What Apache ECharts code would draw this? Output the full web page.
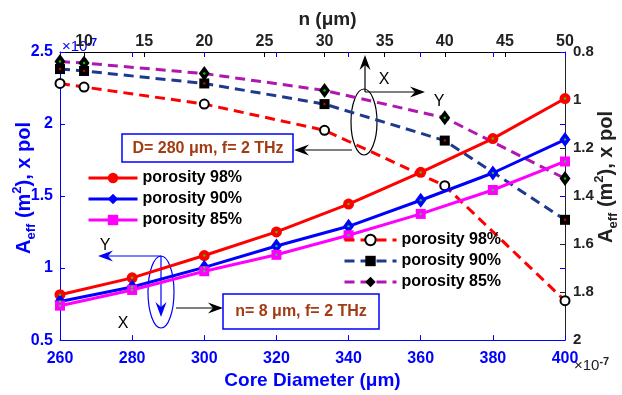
<!DOCTYPE html>
<html>
<head>
<meta charset="utf-8">
<script src="https://cdn.jsdelivr.net/npm/echarts@6/dist/echarts.min.js"></script>
<style>
  html, body { margin: 0; padding: 0; background: #ffffff; }
  #chart { width: 622px; height: 395px; }
</style>
</head>
<body>
<div id="chart"></div>
<script>
// Effective mode area A_eff (x pol), in units of 1e-7 m^2

// Versus core diameter D (µm), n = 8 µm, f = 2 THz  -> bottom / left axes
const coreDiameter = [260, 280, 300, 320, 340, 360, 380, 400];
const aeffCore98 = [0.815, 0.932, 1.087, 1.251, 1.444, 1.665, 1.899, 2.177];
const aeffCore90 = [0.768, 0.869, 1.005, 1.153, 1.290, 1.471, 1.660, 1.892];
const aeffCore85 = [0.739, 0.848, 0.978, 1.092, 1.228, 1.376, 1.542, 1.740];

// Versus n (µm), D = 280 µm, f = 2 THz  -> top / right axes
const strutN = [8, 10, 20, 30, 40, 50];
const aeffN98 = [0.931, 0.946, 1.017, 1.126, 1.357, 1.836];
const aeffN90 = [0.871, 0.879, 0.931, 1.017, 1.169, 1.499];
const aeffN85 = [0.840, 0.846, 0.890, 0.960, 1.074, 1.327];

const porosityLabels = ['porosity 98%', 'porosity 90%', 'porosity 85%'];
const nTicks = [10, 15, 20, 25, 30, 35, 40, 45, 50];

const FONT = '"Liberation Sans", Arial, Helvetica, sans-serif';
const BLUE = '#0000ff';
const BROWN = '#a33c12';

const seriesLabel = {
  core98: porosityLabels[0], core90: porosityLabels[1], core85: porosityLabels[2],
  n98: porosityLabels[0], n90: porosityLabels[1], n85: porosityLabels[2]
};

function pairs(xs, ys) { return xs.map((x, i) => [x, ys[i]]); }

function solidSeries(name, ys, color, symbol, size) {
  return {
    name: name, type: 'line', xAxisIndex: 0, yAxisIndex: 0,
    data: pairs(coreDiameter, ys),
    symbol: symbol, symbolSize: size, showSymbol: true,
    lineStyle: { color: color, width: 3 },
    itemStyle: { color: color, borderWidth: 0 },
    z: 3
  };
}

function dashedSeries(name, ys, color, symbol, size) {
  const hollow = symbol === 'emptyCircle';
  return {
    name: name, type: 'line', xAxisIndex: 1, yAxisIndex: 1,
    data: pairs(strutN, ys),
    symbol: symbol, symbolSize: size, showSymbol: true,
    lineStyle: { color: color, width: 3, type: [10, 6] },
    itemStyle: { color: '#000000', borderColor: '#000000', borderWidth: hollow ? 2.5 : 0 },
    z: 2
  };
}

// small coloured dots in the centre of the markers
function centreDots(xIdx, yIdx, xs, ys, color) {
  return {
    type: 'scatter', xAxisIndex: xIdx, yAxisIndex: yIdx,
    data: pairs(xs, ys), symbol: 'circle', symbolSize: 2.5,
    itemStyle: { color: color }, silent: true, z: 5
  };
}

function arrow(x1, y1, x2, y2, color, w) {
  const ang = Math.atan2(y2 - y1, x2 - x1);
  const L = 15, H = 5.5, N = 10;
  const c = Math.cos(ang), s = Math.sin(ang);
  const pt = (dx, dy) => [x2 + dx * c - dy * s, y2 + dx * s + dy * c];
  const back = pt(-N, 0);
  return [
    { type: 'line', shape: { x1: x1, y1: y1, x2: back[0], y2: back[1] }, style: { stroke: color, lineWidth: w } },
    { type: 'polygon', shape: { points: [pt(0, 0), pt(-L, -H), pt(-N, 0), pt(-L, H)] }, style: { fill: color } }
  ];
}

function plainText(x, y, text, color, size, weight) {
  return {
    type: 'text', x: x, y: y,
    style: { text: text, fill: color, fontSize: size, fontWeight: weight || 'normal', fontFamily: FONT, align: 'center', verticalAlign: 'middle' }
  };
}

function aeffName(x, y, color) {
  return {
    type: 'text', x: x, y: y, rotation: Math.PI / 2,
    style: {
      text: '{m|A}{sub|eff}{m| (m}{sup|2}{m|), x pol}',
      fill: color, fontFamily: FONT, fontWeight: 'bold', align: 'center', verticalAlign: 'middle',
      rich: {
        m: { fontSize: 20, fontWeight: 'bold', fontFamily: FONT, fill: color, lineHeight: 32 },
        sub: { fontSize: 13, fontWeight: 'bold', fontFamily: FONT, fill: color, lineHeight: 13, verticalAlign: 'bottom', padding: [0, 0, 2, 0] },
        sup: { fontSize: 13, fontWeight: 'bold', fontFamily: FONT, fill: color, lineHeight: 13, verticalAlign: 'top', padding: [3, 0, 0, 0] }
      }
    }
  };
}

function multiplier(x, y, color) {
  return {
    type: 'text', x: x, y: y,
    style: {
      text: '{m|×10}{sup|-7}', fill: color, fontFamily: FONT, align: 'left', verticalAlign: 'middle',
      rich: {
        m: { fontSize: 15, fontFamily: FONT, fill: color, lineHeight: 22 },
        sup: { fontSize: 11, fontWeight: 'bold', fontFamily: FONT, fill: color, lineHeight: 11, verticalAlign: 'top', padding: [1, 0, 0, 0] }
      }
    }
  };
}

const legendText = { fontSize: 16, fontWeight: 'bold', color: '#000000', fontFamily: FONT, lineHeight: 21 };

const option = {
  animation: false,
  backgroundColor: '#ffffff',
  grid: { left: 60, right: 57, top: 52, bottom: 50, containLabel: false },
  xAxis: [
    {
      type: 'value', position: 'bottom', min: 260, max: 400, interval: 20,
      axisLine: { show: true, onZero: false, lineStyle: { color: BLUE, width: 1 } },
      axisTick: { show: true, inside: true, length: 5, lineStyle: { color: BLUE } },
      axisLabel: { color: BLUE, fontSize: 16, fontWeight: 'bold', fontFamily: FONT, margin: 10 },
      splitLine: { show: false },
      name: 'Core Diameter (μm)', nameLocation: 'middle', nameGap: 29,
      nameTextStyle: { color: BLUE, fontSize: 19, fontWeight: 'bold', fontFamily: FONT }
    },
    {
      type: 'value', position: 'top', min: 8, max: 50,
      axisLine: { show: true, onZero: false, lineStyle: { color: '#000000', width: 1 } },
      axisTick: { show: true, inside: true, length: 5, customValues: nTicks, lineStyle: { color: '#000000' } },
      axisLabel: { customValues: nTicks, color: '#222222', fontSize: 16, fontWeight: 'bold', fontFamily: FONT, margin: 2 },
      splitLine: { show: false },
      name: 'n (μm)', nameLocation: 'middle', nameGap: 23,
      nameTextStyle: { color: '#222222', fontSize: 19, fontWeight: 'bold', fontFamily: FONT, padding: [0, 0, 0, 30] }
    },
    {
      type: 'value', position: 'top', min: 260, max: 400, interval: 20,
      axisLine: { show: false },
      axisTick: { show: true, inside: true, length: 5, lineStyle: { color: BLUE } },
      axisLabel: { show: false }, splitLine: { show: false }
    }
  ],
  yAxis: [
    {
      type: 'value', position: 'left', min: 0.5, max: 2.5, interval: 0.5,
      axisLine: { show: true, onZero: false, lineStyle: { color: BLUE, width: 1 } },
      axisTick: { show: true, inside: true, length: 5, lineStyle: { color: BLUE } },
      axisLabel: { color: BLUE, fontSize: 16, fontWeight: 'bold', fontFamily: FONT, margin: 7 },
      splitLine: { show: false }
    },
    {
      type: 'value', position: 'right', min: 0.8, max: 2, interval: 0.2, inverse: true,
      axisLine: { show: true, onZero: false, lineStyle: { color: '#222222', width: 1 } },
      axisTick: { show: true, inside: true, length: 5, lineStyle: { color: '#222222' } },
      axisLabel: { color: '#222222', fontSize: 15, fontWeight: 'bold', fontFamily: FONT, margin: 8 },
      splitLine: { show: false }
    },
    {
      type: 'value', position: 'right', min: 0.5, max: 2.5, interval: 0.5,
      axisLine: { show: false },
      axisTick: { show: true, inside: true, length: 5, lineStyle: { color: BLUE } },
      axisLabel: { show: false }, splitLine: { show: false }
    }
  ],
  legend: [
    {
      data: ['core98', 'core90', 'core85'], formatter: n => seriesLabel[n],
      orient: 'vertical', left: 87, top: 167.5, padding: 0, itemGap: 0,
      itemWidth: 49, itemHeight: 13, itemTextGap: 5, selectedMode: false,
      lineStyle: { width: 3 },
      textStyle: legendText
    },
    {
      data: ['n98', 'n90', 'n85'], formatter: n => seriesLabel[n],
      orient: 'vertical', left: 343, top: 229.5, padding: 0, itemGap: 0,
      itemWidth: 52, itemHeight: 13, itemTextGap: 5, selectedMode: false,
      lineStyle: { width: 3 },
      textStyle: legendText
    }
  ],
  series: [
    dashedSeries('n98', aeffN98, '#ff0000', 'emptyCircle', 9),
    dashedSeries('n90', aeffN90, '#1f3a8c', 'rect', 10),
    dashedSeries('n85', aeffN85, '#b016b0', 'diamond', [11, 15]),
    centreDots(1, 1, strutN, aeffN90, '#ff0000'),
    centreDots(1, 1, strutN, aeffN85, '#00ff00'),
    solidSeries('core98', aeffCore98, '#ff0000', 'circle', 11),
    solidSeries('core90', aeffCore90, '#0000ff', 'diamond', [11, 15]),
    solidSeries('core85', aeffCore85, '#ff00ff', 'rect', 10),
    centreDots(0, 0, coreDiameter, aeffCore98, '#00ff00'),
    centreDots(0, 0, coreDiameter, aeffCore90, '#00ff00'),
    centreDots(0, 0, coreDiameter, aeffCore85, '#00ff00')
  ],
  graphic: [
    aeffName(24, 188, BLUE),
    aeffName(606, 177, '#222222'),
    multiplier(62, 47, BLUE),
    multiplier(574, 366, '#222222'),

    // D = 280 µm group: ellipse, axis direction arrows, caption box
    { type: 'ellipse', shape: { cx: 364, cy: 122, rx: 13, ry: 33 }, style: { fill: 'none', stroke: '#000000', lineWidth: 1.2 } },
    ...arrow(365, 92, 365, 55, '#000000', 1.2),
    ...arrow(365, 92, 425, 92, '#000000', 1.2),
    plainText(384, 80, 'X', '#000000', 16),
    plainText(439, 102, 'Y', '#000000', 16),
    ...arrow(352, 150, 294, 150, '#000000', 1.2),
    { type: 'rect', shape: { x: 122, y: 134, width: 171, height: 28 }, style: { fill: '#ffffff', stroke: BLUE, lineWidth: 1.5 } },
    plainText(208, 148.5, 'D= 280 μm, f= 2 THz', BROWN, 16, 'bold'),

    // n = 8 µm group
    { type: 'ellipse', shape: { cx: 161, cy: 292, rx: 13, ry: 36 }, style: { fill: 'none', stroke: BLUE, lineWidth: 1.2 } },
    ...arrow(161, 256, 98, 256, BLUE, 1.2),
    ...arrow(161, 256, 161, 317, BLUE, 1.2),
    plainText(105, 246, 'Y', '#000000', 16),
    plainText(123, 324, 'X', '#000000', 16),
    ...arrow(176, 308, 223, 308, '#000000', 1.2),
    { type: 'rect', shape: { x: 223, y: 294, width: 156, height: 35 }, style: { fill: '#ffffff', stroke: BLUE, lineWidth: 1.5 } },
    plainText(301, 311.5, 'n= 8 μm, f= 2 THz', BROWN, 16, 'bold')
  ]
};

const chart = echarts.init(document.getElementById('chart'), null, { renderer: 'canvas' });
chart.setOption(option);
</script>
</body>
</html>
